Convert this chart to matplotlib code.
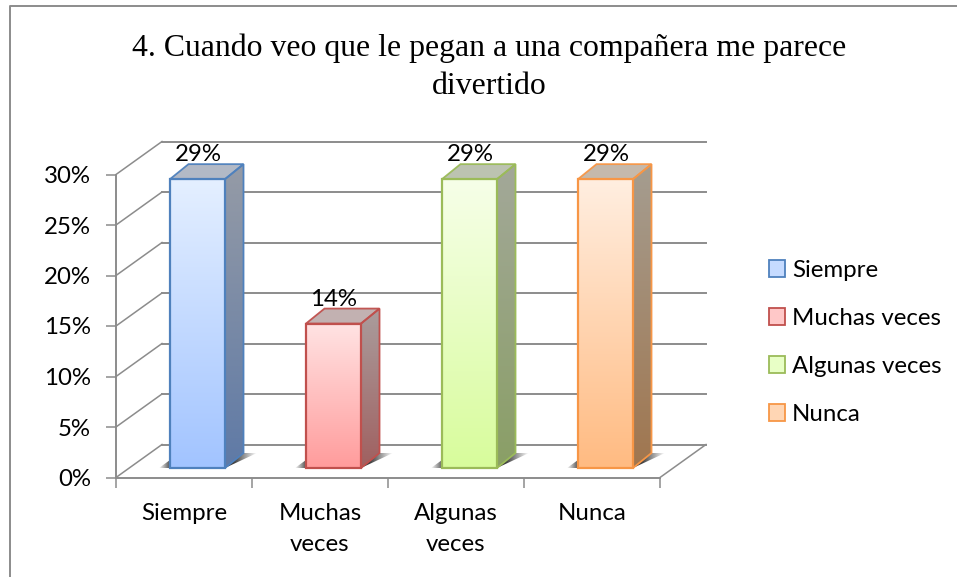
import numpy as np
import matplotlib
matplotlib.use('Agg')
import matplotlib.pyplot as plt
from matplotlib.colors import to_rgb
from matplotlib.patches import Patch, Polygon
from matplotlib.ticker import PercentFormatter

TITLE = '4. Cuando veo que le pegan a una compañera me parece\ndivertido'
categories = ['Siempre', 'Muchas veces', 'Algunas veces', 'Nunca']
tick_labels = ['Siempre', 'Muchas\nveces', 'Algunas\nveces', 'Nunca']
values = [0.286, 0.143, 0.286, 0.286]
value_labels = ['29%', '14%', '29%', '29%']
y_ticks = [0, 0.05, 0.10, 0.15, 0.20, 0.25, 0.30]

edge_colors = ['#4f81bd', '#c0504d', '#9bbb59', '#f79646']
face_top = ['#e4efff', '#ffe3e3', '#f6ffe8', '#ffeee0']
face_bottom = ['#a2c4ff', '#ff9c9c', '#d8fc9c', '#ffbb82']
side_top = ['#959ba6', '#aa9d9d', '#a3a899', '#a59d90']
side_bottom = ['#5f7aa6', '#a06060', '#8a9f66', '#a0764f']
roof_colors = ['#aeb5c3', '#bfadad', '#b9c0ad', '#c2b6a8']
legend_fill = ['#c6dbff', '#ffc8c8', '#e8ffc6', '#ffd6b4']

GRID = '#8c8c8c'
FONT = 'Lato'
FS = 17.3

fig = plt.figure(figsize=(9.57, 5.77), dpi=100)
W, H = 957, 577
ax = fig.add_axes([116 / W, 1 - 477.5 / H, 544 / W, 303 / H])
ax.patch.set_visible(False)

# size of one pixel in data units, the oblique depth is laid out with these
PX = 4 / 544
PY = 0.30 / 303
WALL_X, WALL_Y = 46 * PX, 33 * PY
BAR_W = 55 * PX
BAR_LEFT = 54 * PX
BASE_Y = 9.5 * PY
DEPTH_X, DEPTH_Y = 18.5 * PX, 15 * PY


def gradient(poly, extent, colors, zorder):
    # vertical gradient clipped to a polygon
    c0, c1 = np.array(to_rgb(colors[0])), np.array(to_rgb(colors[1]))
    t = np.linspace(0, 1, 64)[:, None]
    img = (c0 * (1 - t) + c1 * t)[:, None, :]
    im = ax.imshow(img, extent=extent, aspect='auto', origin='upper',
                   zorder=zorder, interpolation='bilinear')
    im.set_clip_box(fig.bbox)
    im.set_clip_path(Polygon(poly, transform=ax.transData))


def shadow(poly, extent, alpha0, alpha1, zorder):
    # floor shadow, fades out sideways
    img = np.zeros((1, 64, 4))
    img[..., :3] = 0.25
    img[..., 3] = np.clip(np.linspace(alpha0, alpha1, 64), 0, 1)
    im = ax.imshow(img, extent=extent, aspect='auto', zorder=zorder,
                   interpolation='bilinear')
    im.set_clip_box(fig.bbox)
    im.set_clip_path(Polygon(poly, transform=ax.transData))


# walls and floor
for v in y_ticks:
    ax.plot([0, WALL_X], [v, v + WALL_Y], color=GRID, lw=1.1, clip_on=False, zorder=1)
    ax.plot([WALL_X, 4 + WALL_X], [v + WALL_Y] * 2, color=GRID, lw=1.4, clip_on=False, zorder=1)
ax.plot([4, 4 + WALL_X], [0, WALL_Y], color=GRID, lw=1.1, clip_on=False, zorder=1)

# bars
for i, v in enumerate(values):
    x0 = i + BAR_LEFT
    x1 = x0 + BAR_W
    y0 = BASE_Y
    y1 = BASE_Y + v
    front = [(x0, y0), (x1, y0), (x1, y1), (x0, y1)]
    side = [(x1, y0), (x1 + DEPTH_X, y0 + DEPTH_Y), (x1 + DEPTH_X, y1 + DEPTH_Y), (x1, y1)]
    roof = [(x0, y1), (x1, y1), (x1 + DEPTH_X, y1 + DEPTH_Y), (x0 + DEPTH_X, y1 + DEPTH_Y)]

    sx = 32 * PX
    shadow([(x1, y0), (x1 + DEPTH_X, y0 + DEPTH_Y), (x1 + sx, y0 + DEPTH_Y)],
           (x1, x1 + sx, y0, y0 + DEPTH_Y), 1.4, 0.0, 2)
    lx = 11 * PX
    shadow([(x0 - lx, y0), (x0, y0 + 8 * PY), (x0, y0)],
           (x0 - lx, x0, y0, y0 + 8 * PY), 0.0, 0.9, 2)

    gradient(side, (x1, x1 + DEPTH_X, y0, y1 + DEPTH_Y), (side_top[i], side_bottom[i]), 3)
    gradient(front, (x0, x1, y0, y1), (face_top[i], face_bottom[i]), 3)
    ax.add_patch(Polygon(roof, fc=roof_colors[i], ec=edge_colors[i], lw=1.3,
                         alpha=0.95, clip_on=False, zorder=3.5))
    ax.add_patch(Polygon(side, fc='none', ec=edge_colors[i], lw=1.3, clip_on=False, zorder=3.6))
    ax.add_patch(Polygon(front, fc='none', ec=edge_colors[i], lw=1.6, clip_on=False, zorder=3.7))

    ax.text(x0 + BAR_W / 2 + 0.5 * PX, y1 + DEPTH_Y + 3 * PY, value_labels[i], ha='center',
            va='baseline', fontsize=FS, family=FONT, color='black', zorder=5)

ax.set_xlim(0, 4)
ax.set_ylim(0, 0.30)

# axes
for s in ('top', 'right'):
    ax.spines[s].set_visible(False)
for s in ('left', 'bottom'):
    ax.spines[s].set_color(GRID)
    ax.spines[s].set_linewidth(1.4)
    ax.spines[s].set_zorder(1.5)
ax.set_yticks(y_ticks)
ax.yaxis.set_major_formatter(PercentFormatter(1, decimals=0))
ax.tick_params(axis='y', length=7, width=1.1, color=GRID, pad=11, labelsize=FS)
ax.set_xticks(range(5))
ax.set_xticklabels([])
ax.set_xticks(np.arange(4) + 0.5, tick_labels, minor=True, linespacing=1.6, fontsize=FS, family=FONT)
ax.tick_params(axis='x', which='major', length=7, width=1.1, color=GRID)
ax.tick_params(axis='x', which='minor', length=0, pad=18)
for t in ax.get_yticklabels():
    t.set_family(FONT)

# title
fig.text(489.5 / W, 1 - 67.5 / H, TITLE, ha='center', va='center', family='Liberation Serif',
         fontsize=22.9, linespacing=1.4, color='black')

# legend
handles = [Patch(fc=legend_fill[i], ec=edge_colors[i], lw=1.3, label=categories[i])
           for i in range(4)]
fig.legend(handles=handles, loc='center left', bbox_to_anchor=(769 / W, 1 - 342.5 / H),
           frameon=False, prop={'family': FONT, 'size': FS}, handlelength=0.68,
           handleheight=0.68, handletextpad=0.28, labelspacing=1.12, borderaxespad=0, borderpad=0)

# outer frame, open on the right and at the bottom
fig.add_artist(plt.Line2D([9.5 / W, 9.5 / W, 1], [0, 1 - 5.5 / H, 1 - 5.5 / H],
                          color='#8c8c8c', lw=1.4, transform=fig.transFigure))

fig.savefig('out.png', dpi=100)
